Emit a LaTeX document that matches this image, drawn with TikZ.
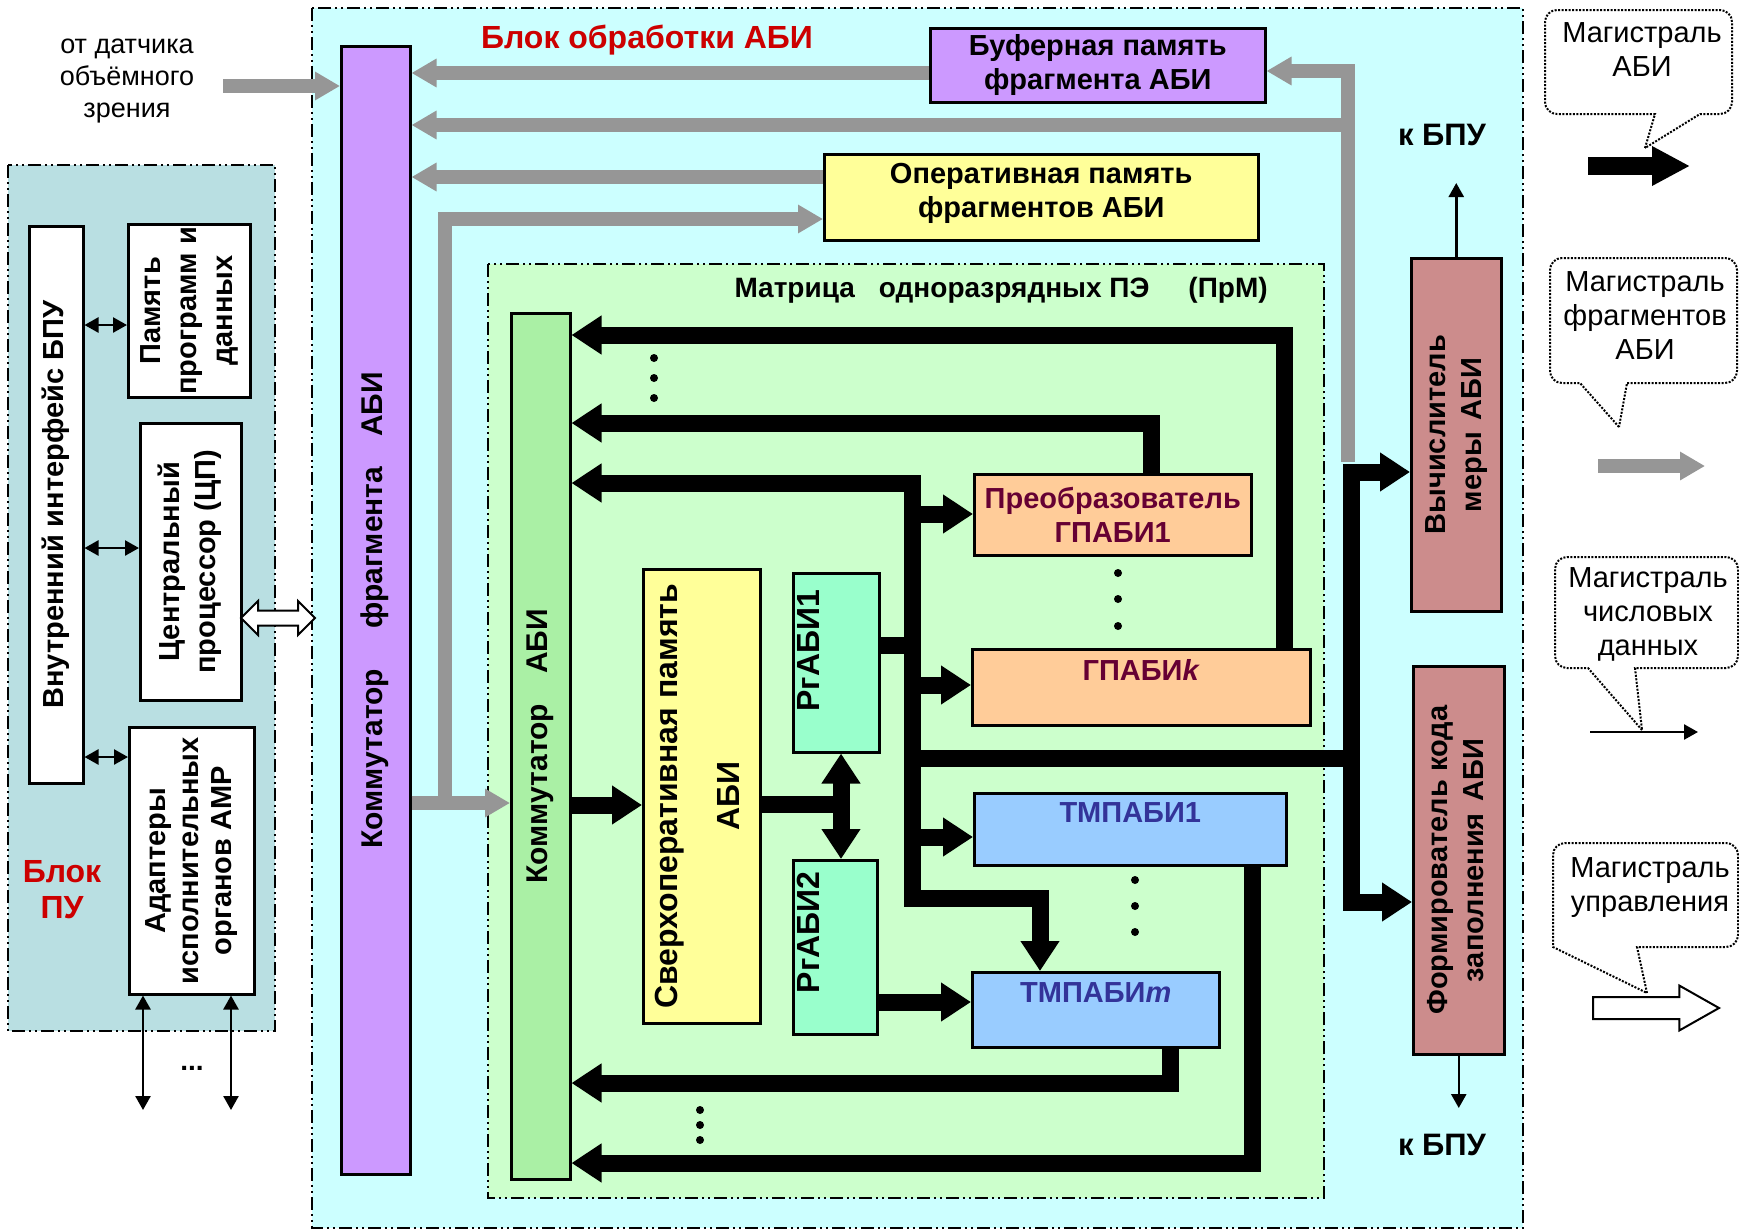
\documentclass[tikz,border=0pt]{standalone}
\usepackage{fontspec}
\setmainfont{Liberation Sans}
\usetikzlibrary{arrows.meta,positioning,shapes.arrows}

\definecolor{abifill}{RGB}{204,255,255}
\definecolor{pufill}{RGB}{185,223,226}
\definecolor{matfill}{RGB}{204,255,204}
\definecolor{lilac}{RGB}{204,153,255}
\definecolor{komgreen}{RGB}{170,240,165}
\definecolor{paleyellow}{RGB}{255,255,153}
\definecolor{mint}{RGB}{153,255,204}
\definecolor{peach}{RGB}{255,204,153}
\definecolor{skyblue}{RGB}{153,204,255}
\definecolor{rosy}{RGB}{204,140,140}
\definecolor{busgray}{RGB}{150,150,150}
\definecolor{titlered}{RGB}{204,0,0}
\definecolor{wine}{RGB}{102,0,51}
\definecolor{navy}{RGB}{51,51,153}

\newcommand{\vlines}[1]{\rotatebox{90}{\begin{tabular}{@{}c@{}}#1\end{tabular}}}

\tikzset{
  block/.style={draw, line width=2.5pt, inner sep=0pt, anchor=north west, align=center,
    font=\fontsize{29}{34}\selectfont\bfseries},
  vblock/.style={block, font=\fontsize{29}{36}\selectfont\bfseries},
  area/.style={line width=2pt, dash pattern=on 13pt off 4pt on 2pt off 4pt on 2pt off 4pt},
  blackbus/.style={line width=17pt, line join=miter, >={Triangle[length=30pt,width=37pt]}},
  graybus/.style={line width=14pt, busgray, line join=miter, >={Triangle[length=25pt,width=27pt]}},
  wire/.style={line width=2.5pt, >={Triangle[length=14pt,width=15pt]}},
  bubble/.style={line width=2pt, dash pattern=on 2pt off 1.5pt},
  legendtext/.style={align=center, font=\fontsize{29}{34}\selectfont},
  kbpu/.style={font=\fontsize{31}{34}\selectfont\bfseries},
  pedot/.style={fill=black}
}

\begin{document}
\begin{tikzpicture}[x=1pt,y=-1pt]
\useasboundingbox (0,0) rectangle (1739,1229);

\filldraw[area, fill=abifill] (312,8) rectangle (1523,1228);
\filldraw[area, fill=pufill] (8,165) rectangle (275,1031);
\filldraw[area, fill=matfill] (488,264) rectangle (1324,1198);

\node[font=\fontsize{27}{32}\selectfont, align=center] (sensor) at (127,81) {от датчика\\объёмного\\зрения};
\node[font=\fontsize{32}{36}\selectfont\bfseries, text=titlered] (title) at (647,40) {Блок обработки АБИ};
\node[font=\fontsize{28}{32}\selectfont\bfseries, anchor=west] (mattitle) at (731,290)
  {Матрица\hspace{24pt}одноразрядных ПЭ\hspace{39pt}(ПрМ)};
\node[font=\fontsize{32}{36}\selectfont\bfseries, text=titlered, align=center] (putitle) at (62,890) {Блок\\ПУ};

\node[vblock, fill=white, minimum width=54, minimum height=557] (iface) at (28,225) {\vlines{Внутренний интерфейс БПУ}};
\node[vblock, fill=white, minimum width=122, minimum height=173] (pam) at (127,223) {\vlines{Память\\программ и\\данных}};
\node[vblock, fill=white, minimum width=101, minimum height=277] (cpu) at (139,422) {\vlines{Центральный\\процессор (ЦП)}};
\node[vblock, fill=white, minimum width=125, minimum height=267, font=\fontsize{29}{33}\selectfont\bfseries] (adapt) at (128,726)
  {\vlines{Адаптеры\\исполнительных\\органов АМР}};

\node[vblock, fill=lilac, minimum width=69, minimum height=1128, font=\fontsize{30}{36}\selectfont\bfseries] (kf) at (340,45)
  {\vlines{Коммутатор\hspace{40pt}фрагмента\hspace{30pt}АБИ}};
\node[block, fill=lilac, minimum width=335, minimum height=74] (buf) at (929,27) {Буферная память\\фрагмента АБИ};
\node[block, fill=paleyellow, minimum width=434, minimum height=86] (oper) at (823,153) {Оперативная память\\фрагментов АБИ\\[-20pt]\mbox{}};

\node[vblock, fill=komgreen, minimum width=59, minimum height=866, font=\fontsize{30}{36}\selectfont\bfseries] (kom) at (510,312)
  {\vlines{Коммутатор\hspace{30pt}АБИ}};
\node[vblock, fill=paleyellow, minimum width=117, minimum height=454, font=\fontsize{32}{36}\selectfont\bfseries] (sverh) at (642,568)
  {\vlines{Сверхоперативная память\\[26pt]АБИ}};
\node[vblock, fill=mint, minimum width=86, minimum height=179, font=\fontsize{32}{36}\selectfont\bfseries] (rg1) at (792,572)
  {\vlines{\hspace*{24pt}РгАБИ1}\hspace*{48pt}};
\node[vblock, fill=mint, minimum width=84, minimum height=174, font=\fontsize{32}{36}\selectfont\bfseries] (rg2) at (792,859)
  {\vlines{\hspace*{30pt}РгАБИ2}\hspace*{46pt}};

\node[block, fill=peach, text=wine, minimum width=277, minimum height=81] (preob) at (973,473) {Преобразователь\\ГПАБИ1};
\node[block, fill=peach, text=wine, minimum width=338, minimum height=76] (gk) at (971,648) {ГПАБИ\textit{k}\\\mbox{}};
\node[block, fill=skyblue, text=navy, minimum width=312, minimum height=72] (tm1) at (973,792) {ТМПАБИ1\\\mbox{}};
\node[block, fill=skyblue, text=navy, minimum width=247, minimum height=75] (tmm) at (971,971) {ТМПАБИ\textit{m}\\\mbox{}};

\node[vblock, fill=rosy, minimum width=90, minimum height=353] (vych) at (1410,257) {\vlines{Вычислитель\\меры\hspace{12pt}АБИ}};
\node[vblock, fill=rosy, minimum width=91, minimum height=388] (form) at (1412,665)
  {\vlines{Формирователь кода\\заполнения\hspace{12pt}АБИ}};

\node[kbpu] (bpu1) at (1442,135) {к БПУ};
\node[kbpu] (bpu2) at (1442,1145) {к БПУ};

\coordinate (sensorend) at (223,86);
\coordinate (grayfoot) at (1348,462);
\coordinate (grayup) at (445,803);
\coordinate (busL) at (912,0);
\coordinate (busR) at (1351,0);
\coordinate (rgbus) at (841,0);
\coordinate (out1) at (143,1110);
\coordinate (out2) at (231,1110);

\draw[graybus,->] (sensorend) -- (kf.west |- sensorend);
\draw[graybus,->] (buf.west |- 0,73) -- (kf.east |- 0,73);
\draw[graybus,->] (grayfoot) |- (buf.east |- 0,71);
\draw[graybus,->] (grayfoot |- 0,125) -- (kf.east |- 0,125);
\draw[graybus,->] (oper.west |- 0,177) -- (kf.east |- 0,177);
\draw[graybus,->] (kf.east |- 0,803) -- (kom.west |- 0,803);
\draw[graybus,->] (grayup) |- (oper.west |- 0,219);

\draw[blackbus,->] (gk.north -| 1284,0) |- (kom.east |- 0,335);
\draw[blackbus,->] (preob.north -| 1151,0) |- (kom.east |- 0,423);
\draw[blackbus,<->] (kom.east |- 0,483) -| (busL |- 0,898) -| (tmm.north -| 1040,0);
\draw[blackbus,->] (busL |- 0,514) -- (preob.west |- 0,514);
\draw[blackbus,->] (busL |- 0,685) -- (gk.west |- 0,685);
\draw[blackbus,->] (busL |- 0,837) -- (tm1.west |- 0,837);
\draw[blackbus] (rg1.east |- 0,645) -- (busL |- 0,645);
\draw[blackbus] (busL |- 0,758) -- (busR |- 0,758);
\draw[blackbus,<->] (vych.west |- 0,472) -| (busR |- 0,902) -- (form.west |- 0,902);
\draw[blackbus,->] (kom.east |- 0,805) -- (sverh.west |- 0,805);
\draw[blackbus] (sverh.east |- 0,804) -- (rgbus |- 0,804);
\draw[blackbus,<->] (rg1.south -| rgbus) -- (rg2.north -| rgbus);
\draw[blackbus,->] (rg2.east |- 0,1002) -- (tmm.west |- 0,1002);
\draw[blackbus,->] (tmm.south -| 1170,0) |- (kom.east |- 0,1083);
\draw[blackbus,->] (tm1.south -| 1252,0) |- (kom.east |- 0,1163);

\draw[wire,<->] (iface.east |- 0,325) -- (pam.west |- 0,325);
\draw[wire,<->] (iface.east |- 0,548) -- (cpu.west |- 0,548);
\draw[wire,<->] (iface.east |- 0,757) -- (adapt.west |- 0,757);
\draw[wire,<->] (adapt.south -| out1) -- (out1);
\draw[wire,<->] (adapt.south -| out2) -- (out2);
\node[font=\fontsize{28}{30}\selectfont\bfseries] (etc) at (192,1068) {...};
\draw[wire,->] (vych.north) -- (vych.north |- 0,183);
\draw[wire,->] (form.south) -- (form.south |- 0,1108);

\node[double arrow, draw, fill=white, line width=2pt, inner sep=6.5pt, minimum height=74pt,
  double arrow head extend=9.5pt] (link) at (278,618) {};

\foreach \y in {358,378,398} \fill[pedot] (654,\y) circle (4);
\foreach \y in {573,599,626} \fill[pedot] (1118,\y) circle (4);
\foreach \y in {880,906,932} \fill[pedot] (1135,\y) circle (4);
\foreach \y in {1110,1125,1140} \fill[pedot] (700,\y) circle (4);

\draw[bubble] (1645,148) -- (1655,114) [rounded corners=12] -- (1545,114) -- (1545,10) -- (1732,10) -- (1732,114) [sharp corners] -- (1700,114) -- cycle;
\node[legendtext] (leg1) at (1642,50) {Магистраль\\АБИ};
\draw[line width=18pt, -{Triangle[length=38pt,width=37pt]}] (1588,166) -- (1690,166);

\draw[bubble] (1619,427) -- (1580,383) [rounded corners=12] -- (1550,383) -- (1550,258) -- (1737,258) -- (1737,383) [sharp corners] -- (1627,383) -- cycle;
\node[legendtext] (leg2) at (1645,316) {Магистраль\\фрагментов\\АБИ};
\draw[graybus,->] (1598,466) -- (1705,466);

\draw[bubble] (1642,730) -- (1588,668) [rounded corners=12] -- (1555,668) -- (1555,557) -- (1738,557) -- (1738,668) [sharp corners] -- (1635,668) -- cycle;
\node[legendtext] (leg3) at (1648,614) {Магистраль\\числовых\\данных};
\draw[wire,->] (1590,732) -- (1698,732);

\draw[bubble] (1647,993) -- (1637,947) [rounded corners=12] -- (1738,947) -- (1738,843) -- (1553,843) [sharp corners] -- (1553,947) -- cycle;
\node[legendtext] (leg4) at (1650,888) {Магистраль\\управления};
\node[single arrow, draw, fill=white, line width=2pt, inner sep=10pt, minimum height=126pt,
  single arrow head extend=11.5pt, single arrow tip angle=59, anchor=tail] (ctrl) at (1592,1008) {};

\end{tikzpicture}
\end{document}
